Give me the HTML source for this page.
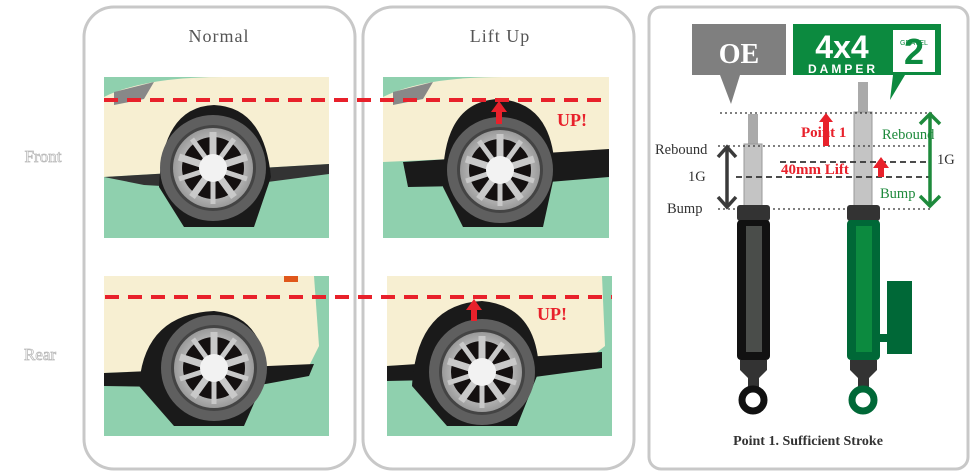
<!DOCTYPE html>
<html><head><meta charset="utf-8"><style>html,body{margin:0;padding:0;background:#fff}svg{display:block}</style></head>
<body>
<svg width="980" height="476" viewBox="0 0 980 476" xmlns="http://www.w3.org/2000/svg" font-family="Liberation Serif, serif">
<defs>
<radialGradient id="rim" cx="0.5" cy="0.5" r="0.5"><stop offset="0" stop-color="#fff"/><stop offset="1" stop-color="#9a9a9a"/></radialGradient>
<g id="wh">
  <circle r="53" fill="#5f5f5f"/>
  <circle r="43" fill="#444"/>
  <circle r="40" fill="url(#rim)"/>
  <circle r="31" fill="#141010"/>
  <g stroke="#c9c9c9" stroke-width="7">
    <line x1="0" y1="0" x2="0" y2="-36"/><line x1="0" y1="0" x2="34" y2="-11"/><line x1="0" y1="0" x2="21" y2="29"/><line x1="0" y1="0" x2="-21" y2="29"/><line x1="0" y1="0" x2="-34" y2="-11"/>
    <line x1="0" y1="0" x2="21" y2="-29" stroke-width="5"/><line x1="0" y1="0" x2="34" y2="11" stroke-width="5"/><line x1="0" y1="0" x2="0" y2="36" stroke-width="5"/><line x1="0" y1="0" x2="-34" y2="11" stroke-width="5"/><line x1="0" y1="0" x2="-21" y2="-29" stroke-width="5"/>
  </g>
  <circle r="14" fill="#f2f2f2"/>
</g>
</defs>
<rect x="84" y="7" width="271" height="462" rx="30" fill="#fff" stroke="#c8c8c8" stroke-width="3"/>
<rect x="363" y="7" width="271" height="462" rx="30" fill="#fff" stroke="#c8c8c8" stroke-width="3"/>
<rect x="649" y="7" width="319" height="462" rx="12" fill="#fff" stroke="#c8c8c8" stroke-width="3"/>
<text x="219" y="42" font-size="18" fill="#555" text-anchor="middle" letter-spacing="1">Normal</text>
<text x="500" y="42" font-size="18" fill="#555" text-anchor="middle" letter-spacing="1">Lift Up</text>
<text x="43" y="162" font-size="17" fill="#fff" stroke="#bbb" stroke-width="0.8" text-anchor="middle">Front</text>
<text x="40" y="360" font-size="17" fill="#fff" stroke="#bbb" stroke-width="0.8" text-anchor="middle">Rear</text>

<svg x="104" y="77" width="225" height="161" viewBox="0 0 225 161">
<rect width="225" height="161" fill="#8fd0ae"/>
<path d="M0 20 Q40 0 120 0 L225 0 L225 87 L0 100Z" fill="#f7efd2"/>
<path d="M0 100 L225 87 L225 97 L110 112 L40 108 Z" fill="#333"/>
<path d="M55 110 Q58 30 110 28 Q160 30 167 100 L150 150 L80 150Z" fill="#1a1a1a"/>
<path d="M10 15 L50 5 L40 22 L10 28Z" fill="#888"/>
<use href="#wh" x="109" y="91"/>
</svg>
<svg x="383" y="77" width="226" height="161" viewBox="0 0 226 161">
<rect width="226" height="161" fill="#8fd0ae"/>
<path d="M0 20 Q40 0 120 0 L226 0 L226 75 L0 85Z" fill="#f7efd2"/>
<path d="M20 85 L226 72 L226 100 L130 108 L25 110 Z" fill="#1a1a1a"/>
<path d="M60 110 Q58 25 115 22 Q170 25 172 95 L160 150 L80 150Z" fill="#1a1a1a"/>
<path d="M10 15 L50 5 L40 22 L10 28Z" fill="#888"/>
<use href="#wh" x="117" y="93"/>
</svg>
<svg x="104" y="276" width="225" height="160" viewBox="0 0 225 160">
<rect width="225" height="160" fill="#8fd0ae"/>
<path d="M0 0 L210 0 L215 70 L205 90 L0 97Z" fill="#f7efd2"/>
<path d="M0 97 L210 88 L205 100 L140 112 L0 110Z" fill="#1a1a1a"/>
<path d="M35 110 Q40 38 110 35 Q160 40 162 100 L140 150 L70 150Z" fill="#1a1a1a"/>
<rect x="180" y="0" width="14" height="6" fill="#e0571b"/>
<use href="#wh" x="110" y="92"/>
</svg>
<svg x="387" y="276" width="225" height="160" viewBox="0 0 225 160">
<rect width="225" height="160" fill="#8fd0ae"/>
<path d="M0 0 L215 0 L218 70 L205 80 L0 90Z" fill="#f7efd2"/>
<path d="M0 90 L215 76 L215 92 L140 102 L0 105Z" fill="#1a1a1a"/>
<path d="M25 110 Q30 28 95 25 Q150 30 152 95 L130 150 L60 150Z" fill="#1a1a1a"/>
<use href="#wh" x="95" y="96"/>
</svg>

<line x1="104" y1="100" x2="609" y2="100" stroke="#e8212b" stroke-width="4" stroke-dasharray="14,9"/>
<line x1="105" y1="297" x2="612" y2="297" stroke="#e8212b" stroke-width="4" stroke-dasharray="14,9"/>
<path d="M496 124 L496 112 L491 112 L499 101 L507 112 L502 112 L502 124Z" fill="#e8212b"/>
<path d="M471 321 L471 310 L466 310 L474 299 L482 310 L477 310 L477 321Z" fill="#e8212b"/>
<text x="557" y="126" font-size="18" font-weight="bold" fill="#e8212b">UP!</text>
<text x="537" y="320" font-size="18" font-weight="bold" fill="#e8212b">UP!</text>

<path d="M692 24 H786 V75 H740 L731 104 L720 75 H692Z" fill="#7f7f7f"/>
<text x="739" y="63" font-size="28" font-weight="bold" fill="#fff" text-anchor="middle">OE</text>
<path d="M793 24 H941 V75 H905 L890 100 L893 75 H793Z" fill="#0c8a3f"/>
<text x="842" y="58" font-size="32" font-weight="bold" fill="#fff" font-family="Liberation Sans, sans-serif" text-anchor="middle">4x4</text>
<text x="843" y="73" font-size="12" font-weight="bold" fill="#fff" font-family="Liberation Sans, sans-serif" text-anchor="middle" letter-spacing="3">DAMPER</text>
<rect x="893" y="30" width="42" height="42" fill="#fff"/>
<text x="914" y="64" font-size="36" font-weight="bold" fill="#0c8a3f" font-family="Liberation Sans, sans-serif" text-anchor="middle">2</text>
<text x="914" y="45" font-size="7" fill="#0c8a3f" font-family="Liberation Sans, sans-serif" text-anchor="middle">GRAVEL</text>

<rect x="748" y="114" width="10" height="30" fill="#aaa"/>
<rect x="744" y="144" width="18" height="62" fill="#c4c4c4" stroke="#999"/>
<rect x="737" y="205" width="33" height="16" rx="3" fill="#333"/>
<rect x="737" y="220" width="33" height="140" rx="4" fill="#111"/>
<rect x="746" y="226" width="16" height="126" fill="#4a4d4a"/>
<path d="M740 360 H767 V370 L759 378 V388 H748 V378 L740 370Z" fill="#333"/>
<circle cx="753" cy="400" r="11" fill="none" stroke="#111" stroke-width="7"/>
<rect x="858" y="82" width="10" height="30" fill="#aaa"/>
<rect x="854" y="112" width="18" height="94" fill="#c4c4c4" stroke="#999"/>
<rect x="847" y="205" width="33" height="16" rx="3" fill="#333"/>
<rect x="847" y="220" width="33" height="140" rx="4" fill="#006837"/>
<rect x="856" y="226" width="16" height="126" fill="#0c8a3f"/>
<rect x="880" y="334" width="9" height="8" fill="#006837"/>
<rect x="887" y="281" width="25" height="73" fill="#006837"/>
<path d="M850 360 H877 V370 L869 378 V388 H858 V378 L850 370Z" fill="#333"/>
<circle cx="863" cy="400" r="11" fill="none" stroke="#006837" stroke-width="7"/>

<g stroke="#333" stroke-width="1.3" stroke-dasharray="2,3">
<line x1="720" y1="113" x2="932" y2="113"/>
<line x1="718" y1="146" x2="928" y2="146"/>
<line x1="718" y1="209" x2="930" y2="209"/>
</g>
<g stroke="#333" stroke-width="1.8" stroke-dasharray="6,4">
<line x1="736" y1="177" x2="930" y2="177"/>
<line x1="780" y1="162" x2="930" y2="162"/>
</g>
<g stroke="#3a3a3a" stroke-width="3.5" fill="none">
<line x1="727" y1="148" x2="727" y2="206"/>
<polyline points="718,157 727,147 736,157"/>
<polyline points="718,197 727,207 736,197"/>
</g>
<g stroke="#1e8a3c" stroke-width="3.5" fill="none">
<line x1="930" y1="114" x2="930" y2="206"/>
<polyline points="920,124 930,114 940,124"/>
<polyline points="920,196 930,206 940,196"/>
</g>
<path d="M823 146 V122 H819 L826 113 L833 122 H829 V146Z" fill="#e8212b"/>
<path d="M878 177 V168 H873 L881 157 L889 168 H884 V177Z" fill="#e8212b"/>
<g font-size="14.5">
<text x="655" y="154" fill="#333">Rebound</text>
<text x="688" y="181" fill="#333">1G</text>
<text x="667" y="213" fill="#333">Bump</text>
<text x="801" y="137" fill="#e8212b" font-weight="bold" font-size="15">Point 1</text>
<text x="781" y="174" fill="#e8212b" font-weight="bold" font-size="15">40mm Lift</text>
<text x="882" y="139" fill="#1e8a3c">Rebound</text>
<text x="937" y="164" fill="#333">1G</text>
<text x="880" y="198" fill="#1e8a3c">Bump</text>
<text x="808" y="445" fill="#333" font-weight="bold" text-anchor="middle" font-size="14">Point 1. Sufficient Stroke</text>
</g>
</svg>
</body></html>
